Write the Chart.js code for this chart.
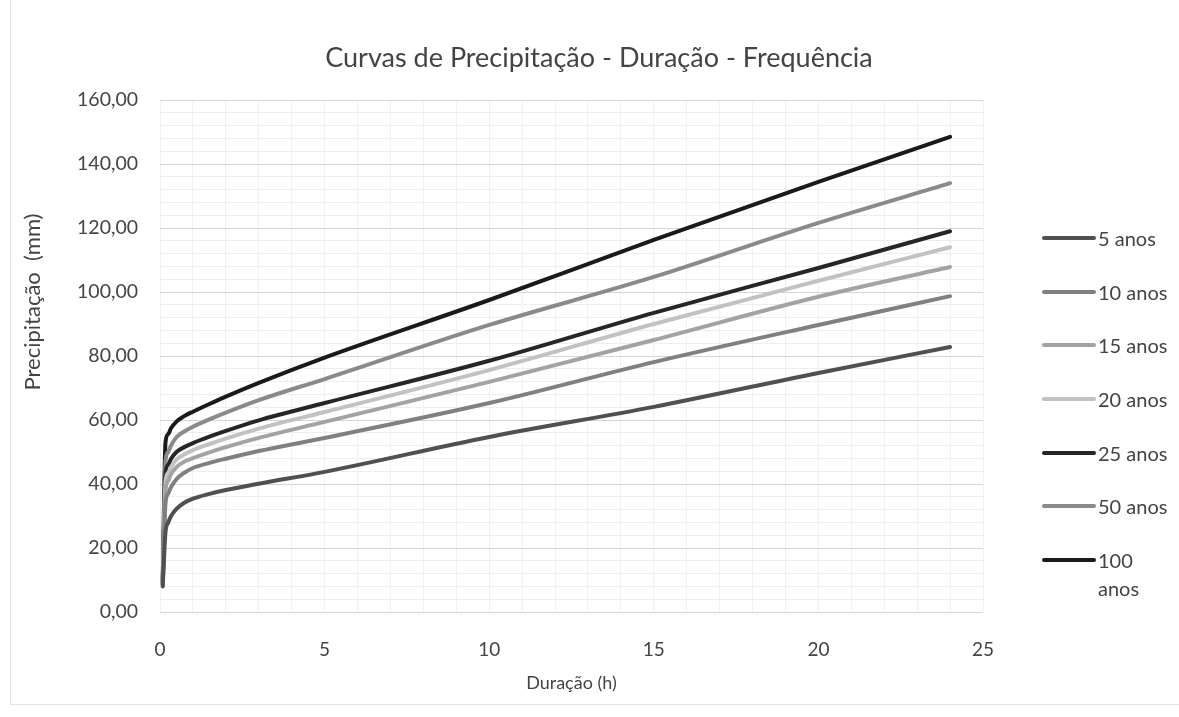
<!DOCTYPE html>
<html lang="pt">
<head>
<meta charset="UTF-8">
<title>Curvas de Precipitação - Duração - Frequência</title>
<script src="https://cdn.jsdelivr.net/npm/chart.js"></script>
<style>
    body { margin: 0; background: #fff; }
    #wrap { position: relative; width: 1179px; height: 717px; font-family: Lato, sans-serif; color: #444; }
    #wrap:before { content: ''; position: absolute; left: 10px; top: 0; bottom: 12px; right: 0; border-left: 1px solid #e4e4e4; border-bottom: 1px solid #e4e4e4; }
    #title { position: absolute; left: 0; width: 1198px; top: 40px; text-align: center; font-size: 27px; line-height: 34px; white-space: nowrap; }
    #ytitle { position: absolute; left: 32px; top: 302px; font-size: 22px; line-height: 24px; white-space: pre; transform: translate(-50%, -50%) rotate(-90deg); }
    #legend { position: absolute; left: 1042px; top: 224px; font-size: 20px; }
    .item { display: flex; align-items: flex-start; line-height: 28px; margin-bottom: 25.7px; }
    .swatch { width: 54px; height: 4px; margin-top: 12px; margin-right: 2px; border-radius: 2px; }
    .txt { white-space: nowrap; }
    .item:last-child .txt { white-space: normal; width: 44px; }
</style>
</head>
<body>
<div id="wrap">
    <canvas id="chart" width="1179" height="717"></canvas>
    <div id="title">Curvas de Precipitação - Duração - Frequência</div>
    <div id="ytitle">Precipitação  (mm)</div>
    <div id="legend"></div>
</div>
<script>
// duração (h)
const durations = [0.083, 0.167, 0.25, 0.333, 0.5, 0.75, 1, 1.5, 2, 3, 5, 10, 15, 20, 24];

// precipitação (mm) por período de retorno
const p5   = [8.0, 25.0, 28.0, 29.9, 32.2, 34.2, 35.4, 36.9, 38.1, 40.1, 43.8, 54.7, 64.1, 74.7, 82.8];
const p10  = [8.3, 34.0, 37.0, 39.0, 41.5, 43.6, 45.0, 46.6, 47.9, 50.3, 54.4, 65.3, 78.1, 89.7, 98.7];
const p15  = [8.5, 38.0, 41.0, 43.0, 45.3, 47.0, 48.1, 49.9, 51.5, 54.4, 59.4, 71.9, 85.0, 98.5, 107.8];
const p20  = [8.8, 40.7, 43.5, 45.3, 47.6, 49.3, 50.6, 52.5, 54.2, 57.3, 62.5, 75.6, 90.0, 103.5, 114.0];
const p25  = [9.0, 43.4, 46.0, 47.8, 50.0, 51.6, 52.8, 54.8, 56.6, 59.9, 65.3, 78.5, 93.5, 107.5, 119.0];
const p50  = [9.5, 47.0, 50.0, 52.0, 54.6, 56.5, 57.9, 60.2, 62.3, 66.2, 72.8, 89.7, 104.7, 121.6, 134.0];
const p100 = [10.0, 53.0, 55.6, 57.4, 59.5, 61.3, 62.6, 65.0, 67.3, 71.6, 79.5, 97.5, 116.3, 134.4, 148.5];

const seriesNames = ['5 anos', '10 anos', '15 anos', '20 anos', '25 anos', '50 anos', '100 anos'];
const seriesData = [p5, p10, p15, p20, p25, p50, p100];
const seriesColors = ['#505050', '#808080', '#a3a3a3', '#c2c2c2', '#262626', '#8a8a8a', '#1a1a1a'];

const textColor = '#444';
const fontFamily = 'Lato, sans-serif';

const datasets = seriesNames.map((name, i) => ({
    label: name,
    data: durations.map((d, j) => ({ x: d, y: seriesData[i][j] })),
    borderColor: seriesColors[i],
    backgroundColor: seriesColors[i],
    borderWidth: 4,
    pointRadius: 0,
    cubicInterpolationMode: 'monotone',
    borderCapStyle: 'round'
}));

new Chart(document.getElementById('chart'), {
    type: 'line',
    data: { datasets: datasets },
    options: {
        responsive: false,
        animation: false,
        layout: { padding: { left: 0, right: 196, top: 100, bottom: 0 } },
        plugins: {
            legend: { display: false },
            tooltip: { enabled: false }
        },
        scales: {
            x: {
                type: 'linear',
                min: 0,
                max: 25,
                afterFit: s => { s.height = 105; },
                border: { display: false },
                grid: { color: '#f1f1f1', drawTicks: false },
                ticks: {
                    stepSize: 1,
                    padding: 26,
                    maxRotation: 0,
                    autoSkip: false,
                    color: textColor,
                    font: { family: fontFamily, size: 19 },
                    callback: v => (v % 5 === 0 ? String(v) : '')
                },
                title: {
                    display: true,
                    text: 'Duração (h)',
                    color: textColor,
                    font: { family: fontFamily, size: 18 },
                    padding: { top: 0, bottom: 23 }
                }
            },
            y: {
                min: 0,
                max: 160,
                afterFit: s => { s.width = 160; },
                border: { display: false },
                grid: {
                    drawTicks: false,
                    color: c => (c.tick.value % 20 === 0 ? '#d6d6d6' : '#eeeeee')
                },
                ticks: {
                    stepSize: 4,
                    padding: 22,
                    autoSkip: false,
                    color: textColor,
                    font: { family: fontFamily, size: 19.5 },
                    callback: v => (v % 20 === 0 ? v.toFixed(2).replace('.', ',') : '')
                }
            }
        }
    }
});

// legenda
const legend = document.getElementById('legend');
seriesNames.forEach((name, i) => {
    const item = document.createElement('div');
    item.className = 'item';
    const sw = document.createElement('div');
    sw.className = 'swatch';
    sw.style.background = seriesColors[i];
    const t = document.createElement('div');
    t.className = 'txt';
    t.textContent = name;
    item.appendChild(sw);
    item.appendChild(t);
    legend.appendChild(item);
});
</script>
</body>
</html>
